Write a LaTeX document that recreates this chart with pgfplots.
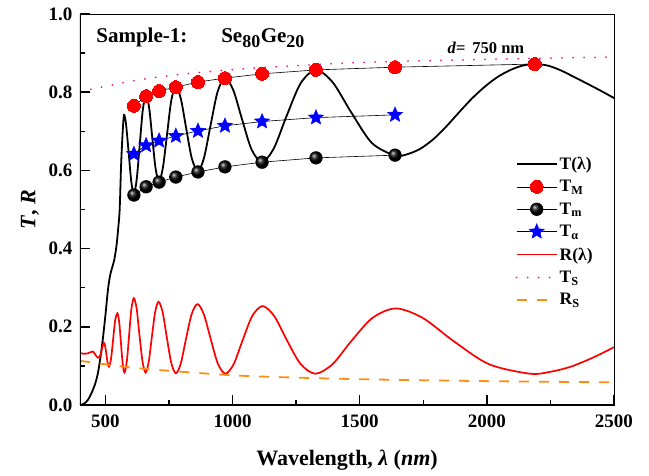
\documentclass[border=0pt]{standalone}
\usepackage{fontspec}
\setmainfont{Liberation Serif}
\usepackage{pgfplots}
\pgfplotsset{compat=1.18}

\definecolor{tsmag}{RGB}{250,20,140}
\definecolor{rsorange}{RGB}{255,140,20}

% filled five-pointed star
\pgfdeclareplotmark{fivestar}{%
  \pgfpathmoveto{\pgfpointpolar{90}{\pgfplotmarksize}}%
  \pgfpathlineto{\pgfpointpolar{126}{0.45\pgfplotmarksize}}%
  \pgfpathlineto{\pgfpointpolar{162}{\pgfplotmarksize}}%
  \pgfpathlineto{\pgfpointpolar{198}{0.45\pgfplotmarksize}}%
  \pgfpathlineto{\pgfpointpolar{234}{\pgfplotmarksize}}%
  \pgfpathlineto{\pgfpointpolar{270}{0.45\pgfplotmarksize}}%
  \pgfpathlineto{\pgfpointpolar{306}{\pgfplotmarksize}}%
  \pgfpathlineto{\pgfpointpolar{342}{0.45\pgfplotmarksize}}%
  \pgfpathlineto{\pgfpointpolar{18}{\pgfplotmarksize}}%
  \pgfpathlineto{\pgfpointpolar{54}{0.45\pgfplotmarksize}}%
  \pgfpathclose
  \pgfusepathqfillstroke}

\begin{document}
\begin{tikzpicture}
\path[use as bounding box] (-80pt,-71pt) rectangle (569pt,405pt);
\begin{axis}[
  scale only axis, width=534pt, height=391pt,
  xmin=400, xmax=2500, ymin=0, ymax=1,
  xtick={500,1000,1500,2000,2500}, minor xtick={750,1250,1750,2250},
  ytick={0,0.2,0.4,0.6,0.8,1.0}, minor ytick={0.1,0.3,0.5,0.7,0.9},
  tick pos=left, tick align=inside,
  major tick length=10pt, minor tick length=5pt,
  every tick/.style={black, line width=1.5pt},
  axis line style={line width=0.8pt},
  /pgf/number format/assume math mode=true,
  tick label style={font=\fontsize{19}{19}\selectfont\bfseries},
  yticklabel style={/pgf/number format/.cd,fixed,fixed zerofill,precision=1, /tikz/xshift=-4pt},
  xticklabel style={/pgf/number format/.cd,set thousands separator={}, /tikz/yshift=-6pt},
  xlabel={Wavelength, \textit{λ} (\textit{nm})},
  ylabel={\textit{T}, \textit{R}},
  every axis x label/.style={at={(axis description cs:0.5,-0.141)}, anchor=center,
    font=\fontsize{22}{22}\selectfont\bfseries},
  every axis y label/.style={at={(axis description cs:-0.094,0.5)}, rotate=90, anchor=center,
    font=\fontsize{22}{22}\selectfont\bfseries},
  legend style={draw=none, fill=none, at={(0.81,0.645)}, anchor=north west,
    font=\fontsize{17.5}{17.5}\selectfont\bfseries, row sep=5.5pt,
    cells={anchor=west}},
  legend image code/.code={\draw[mark repeat=2,mark phase=2] plot coordinates {(0pt,0pt) (20pt,0pt) (40pt,0pt)};},
]

% transmission spectrum
\addplot[black, line width=1.8pt, smooth] coordinates {
(400,0.000) (415,0.003) (430,0.012) (445,0.030) (460,0.055) (470,0.080)
(480,0.120) (490,0.170) (500,0.230) (510,0.295) (518,0.330) (525,0.348)
(535,0.372) (544,0.410) (550,0.450) (556,0.500) (562,0.620) (569,0.712)
(573,0.742) (577,0.735) (582,0.7125) (592,0.641) (602,0.5695) (612,0.540)
(623,0.577) (635,0.666) (647,0.755) (660,0.792) (672,0.760) (684.5,0.682)
(697.5,0.604) (711,0.572) (726,0.607) (742.5,0.693) (759,0.779) (777,0.814)
(797,0.782) (818,0.706) (840,0.630) (864,0.598) (888,0.633) (914,0.717)
(941,0.801) (970,0.836) (1003,0.805) (1038,0.729) (1075,0.653) (1116,0.622)
(1162,0.656) (1213,0.740) (1268,0.823) (1328,0.857) (1394,0.825) (1467,0.748)
(1548,0.670) (1639,0.638) (1690,0.642) (1740,0.656) (1790,0.680) (1840,0.712)
(1890,0.748) (1940,0.783) (1990,0.813) (2040,0.838) (2090,0.856) (2140,0.868)
(2189,0.872) (2240,0.868) (2290,0.856) (2340,0.840) (2400,0.820) (2450,0.803)
(2500,0.785)
};
\addlegendentry{T(λ)}

% upper envelope
\addplot[black, line width=0.6pt, mark=*, mark size=6.5pt,
  mark options={fill=red, draw=red, line width=0pt}] coordinates {
(612,0.765) (660,0.790) (711,0.803) (777,0.813) (864,0.826)
(970,0.836) (1116,0.847) (1328,0.857) (1639,0.864) (2189,0.872)
};
\addlegendentry{T\textsubscript{M}}

% lower envelope
\addplot[black, line width=0.6pt, mark=ball, mark size=6.3pt,
  mark options={ball color=black}] coordinates {
(612,0.537) (660,0.558) (711,0.570) (777,0.583) (864,0.596)
(970,0.609) (1116,0.621) (1328,0.632) (1639,0.639)
};
\addlegendentry{T\textsubscript{m}}

% geometric mean
\addplot[black, line width=0.6pt, mark=fivestar, mark size=8pt,
  mark options={fill=blue, draw=blue, line width=0.4pt}] coordinates {
(612,0.642) (660,0.664) (711,0.676) (777,0.688) (864,0.701)
(970,0.714) (1116,0.725) (1328,0.735) (1639,0.742)
};
\addlegendentry{T\textsubscript{α}}

% reflection spectrum
\addplot[red, line width=1.7pt, smooth] coordinates {
(400,0.133) (415,0.131) (430,0.132) (441,0.135) (451,0.137) (461,0.128)
(471,0.121) (480,0.127) (487,0.145) (494,0.159) (499,0.150) (504,0.1285)
(509,0.107) (514,0.098) (522,0.118) (530,0.166) (538,0.215) (547,0.2345)
(554,0.2124) (561,0.1588) (568,0.1051) (575,0.083) (584,0.1107) (593,0.178)
(602,0.2453) (612,0.273) (623,0.2453) (634,0.178) (646,0.1107) (658,0.083)
(670,0.1094) (682.5,0.1735) (695.5,0.2376) (709,0.264) (725,0.2373) (741.5,0.1725)
(759,0.1077) (777,0.081) (796.6,0.1068) (817,0.1695) (839,0.2322) (862,0.258)
(887,0.232) (914,0.169) (942,0.106) (972,0.080) (1005,0.1053) (1040,0.1665)
(1077.5,0.2277) (1118,0.253) (1163.6,0.2277) (1213,0.1665) (1267,0.1053) (1326,0.080)
(1393,0.1044) (1467,0.1635) (1550,0.2226) (1642,0.247) (1748,0.2226) (1869,0.1635)
(2008,0.1044) (2170,0.080) (2250,0.085) (2330,0.098) (2420,0.122) (2500,0.148)
};
\addlegendentry{R(λ)}

% substrate transmission
\addplot[tsmag, line width=2pt, line cap=round, dash pattern=on 0pt off 11pt, smooth] coordinates {
(400,0.802) (500,0.815) (600,0.828) (700,0.838) (800,0.846) (1000,0.858)
(1200,0.866) (1500,0.876) (2000,0.884) (2500,0.890)
};
\addlegendentry{T\textsubscript{S}}

% substrate reflection
\addplot[rsorange, line width=1.8pt, dash pattern=on 10pt off 10pt, smooth] coordinates {
(400,0.113) (500,0.104) (600,0.096) (700,0.090) (800,0.085) (1000,0.076)
(1200,0.071) (1500,0.066) (2000,0.061) (2500,0.058)
};
\addlegendentry{R\textsubscript{S}}

\draw[line width=2pt] (rel axis cs:0,1) -- (rel axis cs:0,0) -- (rel axis cs:1,0);

\node[anchor=base west, font=\fontsize{21}{21}\selectfont\bfseries]
  at (rel axis cs:0.024,0.926) {Sample-1:};
\node[anchor=base west, font=\fontsize{21}{21}\selectfont\bfseries]
  at (rel axis cs:0.258,0.926) {Se\textsubscript{\fontsize{18}{18}\selectfont 80}Ge\textsubscript{\fontsize{18}{18}\selectfont 20}};
\node[anchor=base west, font=\fontsize{16.5}{16.5}\selectfont\bfseries]
  at (rel axis cs:0.682,0.898) {\textit{d}=\, 750 nm};
\end{axis}
\end{tikzpicture}
\end{document}
